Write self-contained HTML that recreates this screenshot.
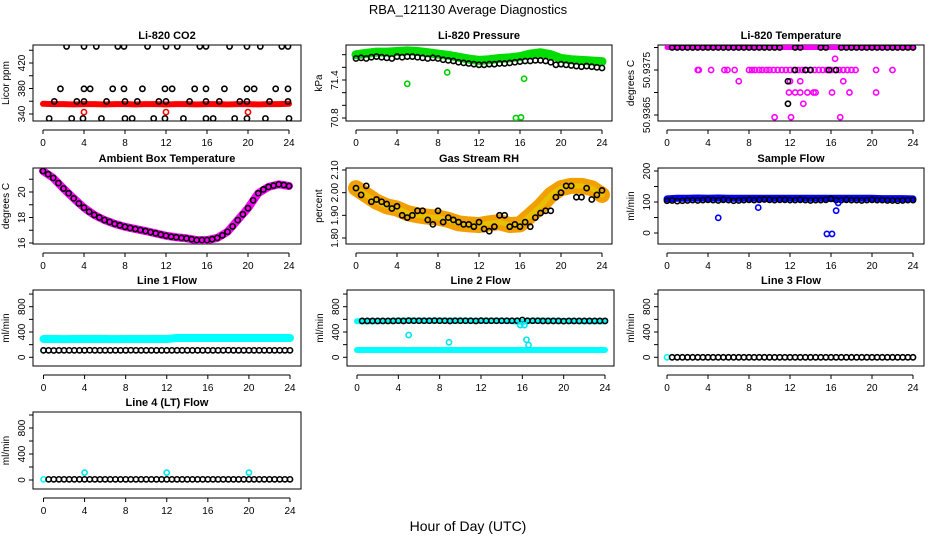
<!DOCTYPE html>
<html><head><meta charset="utf-8"><style>
html,body{margin:0;padding:0;background:#fff}
svg{display:block;font-family:"Liberation Sans",sans-serif}
</style></head><body>
<svg id="chart" width="936" height="540" viewBox="0 0 936 540" xmlns="http://www.w3.org/2000/svg">
<text x="468" y="14" text-anchor="middle" font-size="13">RBA_121130  Average Diagnostics</text>
<text x="468" y="531" text-anchor="middle" font-size="14">Hour of Day (UTC)</text>
</svg>
<script>
// ---- data ----
const xTicks = [0,4,8,12,16,20,24];
const co2Levels = [446,379.5,359.7,333];
const co2LevelHours = [
 [2.3,4.0,5.2,7.3,7.9,10.2,12.0,13.1,15.3,15.9,18.2,19.9,21.2,23.3,23.9],
 [1.7,4.0,4.6,6.8,7.9,9.7,11.9,12.6,14.8,15.9,17.7,19.9,20.6,22.7,23.9],
 [1.1,3.3,4.0,6.2,8.0,9.2,11.3,12.0,14.3,15.9,17.2,19.2,19.9,22.1,23.9],
 [0.6,2.8,3.9,5.7,8.0,8.7,10.8,11.9,13.7,15.9,16.6,18.7,19.9,21.7,24.0]];
const co2Red = [356,355.5,355.5,355,355.5,355.5,355,355.5,355.5,355,355.5,355.5,355,355.5,355.5,355,355.5,355.5,355,355.5,355.5,355,355.5,355.5,356];
const co2RedOutX = [4,12,20];
const co2RedOutY = [343,343,343];

const presGreen = [71.80,71.82,71.84,71.84,71.85,71.86,71.85,71.83,71.81,71.79,71.76,71.73,71.71,71.72,71.74,71.75,71.77,71.81,71.83,71.80,71.74,71.72,71.71,71.70,71.69];
const presBlack = [71.74,71.75,71.74,71.76,71.77,71.76,71.75,71.74,71.77,71.76,71.77,71.77,71.76,71.75,71.74,71.75,71.74,71.72,71.71,71.70,71.68,71.67,71.66,71.65,71.64,71.64,71.65,71.65,71.66,71.66,71.67,71.68,71.69,71.70,71.70,71.71,71.71,71.70,71.68,71.64,71.65,71.64,71.63,71.62,71.61,71.62,71.61,71.60,71.59];
const presOutX = [5.0,8.9,16.4,15.6,16.1];
const presOutY = [71.34,71.52,71.42,70.8,70.81];

const ltMagTop = [50.9380,50.9380,50.9380,50.9380,50.9380,50.9380,50.9380,50.9380,50.9380,50.9380,50.9380,50.9380,50.9380,50.9380,50.9380,50.9380,50.9380,50.9380,50.9380,50.9380,50.9380,50.9380,50.9380,50.9380,50.9380];
const ltMagX = [3,3.1,4.3,5.6,5.9,6.6,8,8.3,8.6,9,9.3,9.7,10,10.4,10.8,11.2,11.6,12,12.4,12.8,13.2,13.6,14,14.4,14.8,15.2,15.6,16,16.4,16.8,17.2,17.6,18,18.4,20.4,22,16.4,7,12,13,17.2,11.9,12.5,13,13.7,14.3,14.5,16.1,17.8,20.4,13.3,10.5,12.1,16.9];
const ltMagY = [50.9375,50.9375,50.9375,50.9375,50.9375,50.9375,50.9375,50.9375,50.9375,50.9375,50.9375,50.9375,50.9375,50.9375,50.9375,50.9375,50.9375,50.9375,50.9375,50.9375,50.9375,50.9375,50.9375,50.9375,50.9375,50.9375,50.9375,50.9375,50.9375,50.9375,50.9375,50.9375,50.9375,50.9375,50.9375,50.9375,50.93775,50.93725,50.93725,50.93725,50.93725,50.9370,50.9370,50.9370,50.9370,50.9370,50.9370,50.9370,50.9370,50.9370,50.93675,50.93645,50.93645,50.93645];
const ltBlackTop = [null,50.9380,50.9380,50.9380,50.9380,50.9380,50.9380,50.9380,50.9380,50.9380,50.9380,50.9380,50.9380,50.9380,50.9380,50.9380,50.9380,50.9380,50.9380,50.9380,50.9380,50.9380,50.9380,null,null,50.9380,50.9380,null,null,null,50.9380,50.9380,null,null,50.9380,50.9380,50.9380,50.9380,50.9380,50.9380,50.9380,50.9380,50.9380,50.9380,50.9380,50.9380,50.9380,50.9380,50.9380];
const ltBlackX = [12.5,13.5,14,15.8,16.5,11.8,11.8];
const ltBlackY = [50.9375,50.9375,50.9375,50.9375,50.9375,50.93725,50.93675];

const ambMagenta = [21.65,21.1,20.27,19.5,18.77,18.2,17.8,17.5,17.27,17.1,16.94,16.76,16.57,16.45,16.37,16.23,16.23,16.4,16.88,17.8,18.73,19.9,20.4,20.6,20.47];
const ambBlack = [21.65,21.4,21.1,20.7,20.27,19.9,19.5,19.1,18.77,18.45,18.2,18.0,17.8,17.65,17.5,17.38,17.27,17.18,17.1,17.02,16.94,16.85,16.76,16.66,16.57,16.5,16.45,16.4,16.37,16.3,16.23,16.23,16.23,16.3,16.4,16.6,16.88,17.3,17.8,18.25,18.73,19.35,19.9,20.2,20.4,20.5,20.6,20.55,20.47];

const rhBand = [2.02,1.99,1.96,1.94,1.93,1.91,1.90,1.894,1.89,1.88,1.865,1.86,1.857,1.865,1.87,1.857,1.86,1.90,1.94,1.99,2.02,2.03,2.03,2.02,1.99];
const rhBlack = [2.02,1.99,2.03,1.96,1.97,1.96,1.95,1.93,1.94,1.90,1.89,1.90,1.92,1.92,1.88,1.86,1.92,1.87,1.89,1.88,1.87,1.86,1.86,1.85,1.87,1.84,1.83,1.85,1.90,1.90,1.85,1.86,1.85,1.87,1.85,1.89,1.91,1.92,1.92,1.98,2.00,2.03,2.03,1.98,1.98,2.02,1.97,1.99,2.01];

const sfBlue = [110,112,112,113,112,113,112,112,112,112,112,112,112,112,112,112,112,112,112,112,112,111,111,111,110];
const sfBlack = [104,105,103,104,105,106,105,106,107,106,105,107,106,104,105,106,107,106,107,108,107,106,107,107,106,106,107,106,105,106,106,107,110,106,106,107,106,106,105,106,107,106,106,105,105,104,105,106,106];
const sfOutX = [5.0,8.9,15.6,16.1,16.5,16.7];
const sfOutY = [49,82,-3,-3,72,97];

const l1Cyan = [290,290,288,290,290,292,290,288,290,290,290,292,290,305,305,305,306,305,305,305,305,305,305,305,305];
const l1Black = [110,110,108,110,110,110,110,110,110,112,110,110,110,110,110,110,110,112,110,110,110,110,110,110,110,110,110,110,110,110,110,110,110,110,110,110,112,110,110,110,110,110,110,110,110,110,110,110,110];
const l2CyanHigh = [570,572,570,575,578,580,580,578,580,580,580,578,575,578,578,570,560,578,580,578,575,572,570,572,570];
const l2CyanLow = [115,115,115,115,115,115,115,115,115,115,115,115,115,115,115,115,115,115,115,115,115,115,115,115,115];
const l2Black = [null,575,575,575,575,575,575,575,578,575,580,578,578,578,578,580,578,578,575,578,578,578,578,575,580,578,578,578,578,578,578,578,590,578,578,578,575,575,575,575,572,575,575,575,575,575,575,575,575];
const l2OutX = [5.0,8.9,16.4,16.6,15.8,16.2];
const l2OutY = [352,237,278,194,510,510];
const l3Black = [null,0,0,0,0,0,0,0,0,0,0,0,0,0,0,0,0,0,0,0,0,0,0,0,0,0,0,0,0,0,0,0,0,0,0,0,0,0,0,0,0,0,0,0,0,0,0,0,0];
const l4Black = [null,10,10,10,10,10,10,10,10,10,10,10,10,10,10,10,10,10,10,10,10,10,10,10,10,10,10,10,10,10,10,10,10,10,10,10,10,10,10,10,10,10,10,10,10,10,10,10,10];
const l4OutX = [4,12,20];
const l4OutY = [113,113,113];

// ---- rendering ----
const NS = "http://www.w3.org/2000/svg";
const svg = document.getElementById('chart');
function el(tag, attrs, parent){
  const e = document.createElementNS(NS, tag);
  for (const k in attrs) e.setAttribute(k, attrs[k]);
  (parent||svg).appendChild(e);
  return e;
}
function makePanel(cfg){
  const g = el('g', {});
  
  
  const b = cfg.box;
  const sx = h => cfg.x0 + h*(cfg.x24-cfg.x0)/24;
  const sy = v => cfg.yp[0] + (v-cfg.yv[0])*(cfg.yp[1]-cfg.yp[0])/(cfg.yv[1]-cfg.yv[0]);
  const t = el('text', {x:(b.l+b.r)/2, y:b.t-6, 'text-anchor':'middle', 'font-size':11, 'font-weight':'bold'}, g);
  t.textContent = cfg.title;
  
  
  const frame = el('rect', {x:b.l, y:b.t, width:b.r-b.l, height:b.b-b.t, fill:'none', stroke:'#000', 'stroke-width':1}, g);
  
  
  const ax = b.b+9;
  const xl = el('line', {x1:sx(0), x2:sx(24), y1:ax, y2:ax, stroke:'#000'}, g);
  
  
  xTicks.forEach(h=>{
    el('line', {x1:sx(h), x2:sx(h), y1:ax, y2:ax+4, stroke:'#000'}, g);
    const tl = el('text', {x:sx(h), y:ax+16, 'text-anchor':'middle', 'font-size':10}, g);
    tl.textContent = h;
    
    
  });
  const yl = el('line', {x1:b.l, x2:b.l, y1:sy(cfg.yTicks[0]), y2:sy(cfg.yTicks[cfg.yTicks.length-1]), stroke:'#000'}, g);
  
  
  cfg.yTicks.forEach((v,i)=>{
    el('line', {x1:b.l-4, x2:b.l, y1:sy(v), y2:sy(v), stroke:'#000'}, g);
    if (cfg.yLabels[i]){
      const tl = el('text', {x:b.l-8, y:sy(v), 'text-anchor':'middle', 'font-size':10, transform:`rotate(-90 ${b.l-8} ${sy(v)})`}, g);
      tl.textContent = cfg.yLabels[i];
      
      
    }
  });
  const yt = el('text', {x:b.l-24, y:(b.t+b.b)/2, 'text-anchor':'middle', 'font-size':10, transform:`rotate(-90 ${b.l-24} ${(b.t+b.b)/2})`}, g);
  yt.textContent = cfg.ytitle;
  
  
  const clip = 'clip-'+cfg.name;
  const cp = el('clipPath', {id:clip}, g);
  el('rect', {x:b.l, y:b.t, width:b.r-b.l, height:b.b-b.t}, cp);
  const dg = el('g', {'clip-path':`url(#${clip})`}, g);
  return {sx, sy, g:dg};
}
function band(p, arr, color, w, name){
  const pts = arr.map((v,i)=>`${p.sx(i)},${p.sy(v)}`).join(' ');
  const pl = el('polyline', {points:pts, fill:'none', stroke:color, 'stroke-width':w, 'stroke-linecap':'round', 'stroke-linejoin':'round'}, p.g);
  
  
}
function pt(p, h, v, color, name){
  const c = el('circle', {cx:p.sx(h), cy:p.sy(v), r:2.6, fill:'none', stroke:color, 'stroke-width':1.6}, p.g);
  
  
}
function halfSeries(p, arr, color, name){
  arr.forEach((v,i)=>{ if (v!==null) pt(p, i*0.5, v, color, name); });
}
function xySeries(p, xs, ys, color, name){
  xs.forEach((h,i)=>pt(p, h, ys[i], color, name));
}

let p = makePanel({name:'panel-co2', title:'Li-820 CO2', ytitle:'Licor ppm', box:{l:33,t:45,r:301,b:121}, x0:43, x24:289, yv:[340,420], yp:[114,63], yTicks:[340,360,380,400,420,440], yLabels:['340','','380','','420','']});
band(p, co2Red, '#ff0000', 6, 'co2-red-band');
xySeries(p, co2RedOutX, co2RedOutY, '#ff0000', 'co2-red-point');
co2Levels.forEach((lv,k)=>co2LevelHours[k].forEach(h=>pt(p, h, lv, '#000', 'co2-black-point')));

p = makePanel({name:'panel-pressure', title:'Li-820 Pressure', ytitle:'kPa', box:{l:346,t:45,r:612,b:121}, x0:356, x24:602, yv:[70.8,71.4], yp:[118,80], yTicks:[70.8,71.0,71.2,71.4,71.6,71.8], yLabels:['70.8','','','71.4','','']});
band(p, presGreen, '#00dd00', 9, 'pressure-green-band');
halfSeries(p, presBlack, '#000', 'pressure-black-point');
xySeries(p, presOutX, presOutY, '#00cc00', 'pressure-green-point');

p = makePanel({name:'panel-li820-temp', title:'Li-820 Temperature', ytitle:'degrees C', box:{l:658,t:45,r:924,b:121}, x0:667, x24:913, yv:[50.9365,50.9375], yp:[115,70], yTicks:[50.9365,50.9370,50.9375,50.9380], yLabels:['50.9365','','50.9375','']});
band(p, ltMagTop, '#ff00ff', 5, 'li820temp-magenta-band');
xySeries(p, ltMagX, ltMagY, '#ff00ff', 'li820temp-magenta-point');
halfSeries(p, ltBlackTop, '#000', 'li820temp-black-point');
xySeries(p, ltBlackX, ltBlackY, '#000', 'li820temp-black-point');

p = makePanel({name:'panel-ambient-temp', title:'Ambient Box Temperature', ytitle:'degrees C', box:{l:33,t:168,r:301,b:244}, x0:43, x24:289, yv:[16,20], yp:[243,192], yTicks:[16,17,18,19,20,21], yLabels:['16','','18','','20','']});
band(p, ambMagenta, '#ff00ff', 8, 'ambient-magenta-band');
halfSeries(p, ambBlack, '#000', 'ambient-black-point');

p = makePanel({name:'panel-gas-rh', title:'Gas Stream RH', ytitle:'percent', box:{l:346,t:168,r:612,b:244}, x0:356, x24:602, yv:[1.80,2.10], yp:[238,170], yTicks:[1.80,1.90,2.00,2.10], yLabels:['1.80','1.90','2.00','2.10']});
band(p, rhBand, '#f2a000', 16, 'rh-orange-band');
band(p, rhBand, '#e8c000', 5, 'rh-yellow-band');
halfSeries(p, rhBlack, '#000', 'rh-black-point');

p = makePanel({name:'panel-sample-flow', title:'Sample Flow', ytitle:'ml/min', box:{l:658,t:168,r:924,b:244}, x0:667, x24:913, yv:[0,100], yp:[233,202], yTicks:[0,50,100,150,200], yLabels:['0','','100','','200']});
band(p, sfBlue, '#0000ff', 7, 'sample-blue-band');
halfSeries(p, sfBlack, '#000', 'sample-black-point');
xySeries(p, sfOutX, sfOutY, '#0000ff', 'sample-blue-point');

const flowTicks = [0,200,400,600,800,1000];
const flowLabels = ['0','','400','','800',''];
p = makePanel({name:'panel-line1-flow', title:'Line 1 Flow', ytitle:'ml/min', box:{l:33,t:290,r:301,b:366}, x0:43.5, x24:290, yv:[0,800], yp:[357.3,306.7], yTicks:flowTicks, yLabels:flowLabels});
band(p, l1Cyan, '#00ffff', 8, 'line1-cyan-band');
pt(p, 0, 110, '#00ffff', 'line1-cyan-point');
halfSeries(p, l1Black, '#000', 'line1-black-point');

p = makePanel({name:'panel-line2-flow', title:'Line 2 Flow', ytitle:'ml/min', box:{l:347,t:290,r:614,b:366}, x0:357, x24:605, yv:[0,800], yp:[357.3,306.7], yTicks:flowTicks, yLabels:flowLabels});
band(p, l2CyanHigh, '#00ffff', 6, 'line2-cyan-high-band');
band(p, l2CyanLow, '#00ffff', 6, 'line2-cyan-low-band');
halfSeries(p, l2Black, '#000', 'line2-black-point');
xySeries(p, l2OutX, l2OutY, '#00e5ee', 'line2-cyan-point');

p = makePanel({name:'panel-line3-flow', title:'Line 3 Flow', ytitle:'ml/min', box:{l:658,t:290,r:924,b:366}, x0:667, x24:913, yv:[0,800], yp:[357.3,306.7], yTicks:flowTicks, yLabels:flowLabels});
pt(p, 0, 0, '#00ffff', 'line3-cyan-point');
halfSeries(p, l3Black, '#000', 'line3-black-point');

p = makePanel({name:'panel-line4-flow', title:'Line 4 (LT) Flow', ytitle:'ml/min', box:{l:33,t:412,r:301,b:489}, x0:43.5, x24:290, yv:[0,800], yp:[480,428], yTicks:flowTicks, yLabels:flowLabels});
pt(p, 0, 10, '#00ffff', 'line4-cyan-point');
halfSeries(p, l4Black, '#000', 'line4-black-point');
xySeries(p, l4OutX, l4OutY, '#00e5ee', 'line4-cyan-point');
</script>
</body></html>
